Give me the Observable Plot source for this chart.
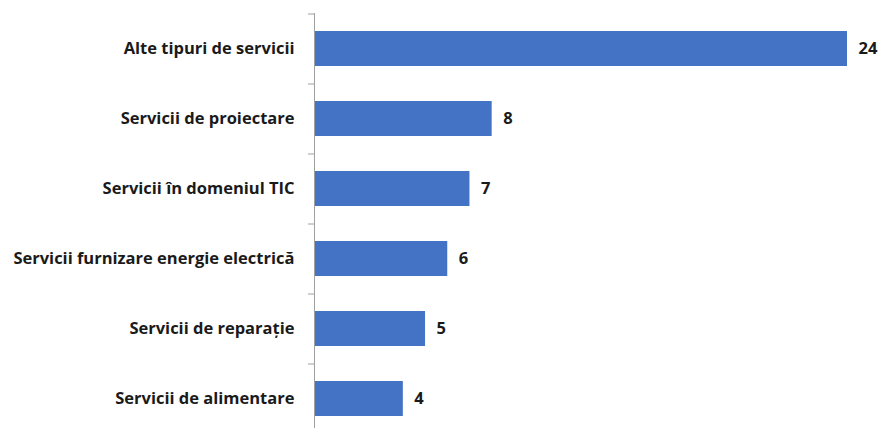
<!DOCTYPE html>
<html>
<head>
<meta charset="utf-8">
<script src="https://cdn.jsdelivr.net/npm/d3@7"></script>
<script src="https://cdn.jsdelivr.net/npm/@observablehq/plot@0.6"></script>
<style>
  html, body { margin: 0; padding: 0; background: #fff; overflow: hidden; }
</style>
</head>
<body>
<div id="chart"></div>
<script>
const categories = [
  "Alte tipuri de servicii",
  "Servicii de proiectare",
  "Servicii în domeniul TIC",
  "Servicii furnizare energie electrică",
  "Servicii de reparație",
  "Servicii de alimentare"
];
const values = [24, 8, 7, 6, 5, 4];

const data = categories.map((c, i) => ({category: c, value: values[i]}));

const chart = Plot.plot({
  width: 880,
  height: 428,
  marginTop: 13,
  marginBottom: 0,
  marginLeft: 314,
  marginRight: 33,
  style: {fontFamily: "'Open Sans', sans-serif", background: "#fff", overflow: "hidden"},
  x: {domain: [0, 24], range: [314, 847], axis: null},
  y: {domain: categories, range: [13, 433], paddingInner: 0.5, paddingOuter: 0.25, label: null},
  marks: [
    Plot.barX(data, {x: "value", y: "category", fill: "#4472c4"}),
    Plot.text(data, {
      x: "value", y: "category", text: d => String(d.value),
      textAnchor: "start", dx: 11, fontSize: 16.5, fontWeight: "bold", fill: "#1a1a1a"
    }),
    Plot.axisY({tickSize: 6, text: null, dy: -35, stroke: "#a0a0a0", label: null}),
    Plot.axisY({tickSize: 0, tickPadding: 20, fontSize: 16.5, fontWeight: "bold", fill: "#1a1a1a", label: null}),
    Plot.ruleX([0], {stroke: "#a0a0a0"})
  ]
});
document.getElementById("chart").appendChild(chart);
</script>
</body>
</html>
